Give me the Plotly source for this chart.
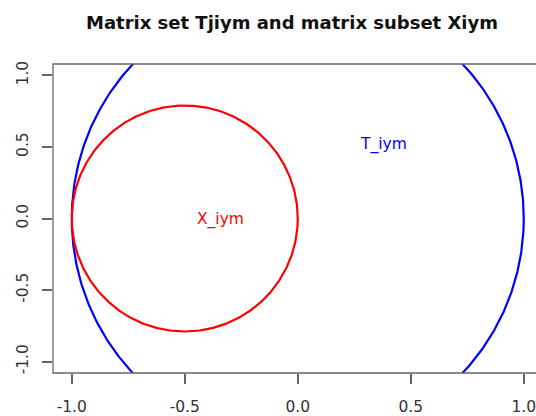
import numpy as np
import plotly.graph_objects as go

# ---- data ----
circle_names = ["T_iym", "X_iym"]
circle_cx = [0.0, -0.5]
circle_cy = [0.0, 0.0]
circle_r = [1.0, 0.5]          # radius in x-axis units (circles are round on screen)
circle_colors = ["blue", "red"]
label_x = [0.378, -0.343]
label_y = [0.517, -0.01]
x_ticks = [-1.0, -0.5, 0.0, 0.5, 1.0]
y_ticks = [-1.0, -0.5, 0.0, 0.5, 1.0]
title = "Matrix set Tjiym and matrix subset Xiym"

FONT = "DejaVu Sans, Liberation Sans, Arial"

# ---- layout geometry ----
W, H = 536, 416
ml, mr, mt, mb = 53, 0, 64, 43
pw, ph = W - ml - mr, H - mt - mb
xr = [-1.083, -1.083 + pw / 226.0]
yr = [-1.08, 1.08]
aspect = (pw / (xr[1] - xr[0])) / (ph / (yr[1] - yr[0]))

fig = go.Figure()
t = np.linspace(0, 2 * np.pi, 721)
for name, cx, cy, r, col in zip(circle_names, circle_cx, circle_cy, circle_r, circle_colors):
    fig.add_trace(go.Scatter(
        x=cx + r * np.cos(t), y=cy + r * aspect * np.sin(t),
        mode="lines", line=dict(color=col, width=2.2), name=name,
        showlegend=False, hoverinfo="skip"))

for name, lx, ly, col in zip(circle_names, label_x, label_y, circle_colors):
    fig.add_annotation(x=lx, y=ly, text=name, showarrow=False,
                       font=dict(family=FONT, size=15.5, color=col))

fig.add_shape(type="rect", xref="paper", yref="paper", x0=0, x1=1.05, y0=0, y1=1,
              line=dict(color="#666", width=1.3))

axis_common = dict(showgrid=False, zeroline=False, showline=False, automargin=False,
                   ticks="outside", ticklen=10, tickcolor="#666", tickwidth=1.5,
                   ticklabeloverflow="allow",
                   tickfont=dict(family=FONT, size=15.5, color="#333"))
fig.update_xaxes(range=xr, tickvals=x_ticks, ticktext=[f"{v:.1f}" for v in x_ticks],
                 ticklabelstandoff=9, **axis_common)
fig.update_yaxes(range=yr, tickvals=y_ticks, ticktext=[f"{v:.1f}" for v in y_ticks],
                 tickangle=-90, ticklabelstandoff=8, **axis_common)

fig.update_layout(
    width=W, height=H,
    margin=dict(l=ml, r=mr, t=mt, b=mb, pad=0),
    plot_bgcolor="white", paper_bgcolor="white",
    title=dict(text="<b>" + title + "</b>", x=292 / W, xanchor="center",
               y=1 - 23 / H, yanchor="middle",
               font=dict(family=FONT, size=18, color="#111")),
)
fig.write_html(
    "out.html",
    config={"displayModeBar": False},
    post_script="document.body.style.margin='0';document.body.style.overflow='hidden';",
)
